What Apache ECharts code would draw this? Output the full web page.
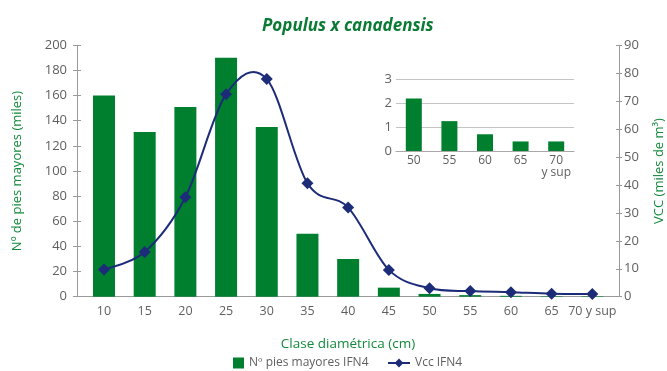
<!DOCTYPE html>
<html>
<head>
<meta charset="utf-8">
<script src="https://cdn.jsdelivr.net/npm/echarts@6/dist/echarts.min.js"></script>
<style>
  html, body { margin: 0; padding: 0; background: #fff; }
  #chart { width: 667px; height: 371px; }
</style>
</head>
<body>
<div id="chart"></div>
<script>
// Diameter classes (cm)
const categories = ['10', '15', '20', '25', '30', '35', '40', '45', '50', '55', '60', '65', '70 y sup'];
// Nº pies mayores IFN4 (miles)
const piesMayores = [160, 131, 151, 190, 135, 50, 30, 7.2, 2.2, 1.25, 0.7, 0.4, 0.4];
// Vcc IFN4 (miles de m³)
const vcc = [9.7, 16.0, 35.6, 72.5, 77.9, 40.6, 31.9, 9.6, 3.0, 2.0, 1.6, 1.1, 1.0];
// Tick labels
const leftTicks = [0, 20, 40, 60, 80, 100, 120, 140, 160, 180, 200];
const rightTicks = [0, 10, 20, 30, 40, 50, 60, 70, 80, 90];
// Detail panel for the largest classes
const insetCategories = ['50', '55', '60', '65', '70\ny sup'];
const insetStart = categories.indexOf('50');
const insetValues = piesMayores.slice(insetStart);

const GREEN = '#00802f';
const NAVY = '#1c2c78';
const GREY_TXT = '#5f5f5f';
const AXIS = '#9a9a9a';
const TITLE_GREEN = '#138a3c';
const FONT = 'Open Sans';

const chart = echarts.init(document.getElementById('chart'), null, { renderer: 'canvas' });

const indices = categories.map((_, i) => i);

// Smoothed curve through the Vcc points (Catmull-Rom spline as cubic Béziers)
function renderVccCurve(params, api) {
  const pts = vcc.map((v, i) => api.coord([i, v]));
  const n = pts.length;
  let d = 'M' + pts[0][0] + ',' + pts[0][1];
  for (let i = 0; i < n - 1; i++) {
    const p0 = pts[Math.max(i - 1, 0)];
    const p1 = pts[i];
    const p2 = pts[i + 1];
    const p3 = pts[Math.min(i + 2, n - 1)];
    const c1x = p1[0] + (p2[0] - p0[0]) / 6;
    const c1y = p1[1] + (p2[1] - p0[1]) / 6;
    const c2x = p2[0] - (p3[0] - p1[0]) / 6;
    const c2y = p2[1] - (p3[1] - p1[1]) / 6;
    d += ' C' + c1x + ',' + c1y + ' ' + c2x + ',' + c2y + ' ' + p2[0] + ',' + p2[1];
  }
  return {
    type: 'path',
    shape: { pathData: d },
    style: { fill: null, stroke: NAVY, lineWidth: 2 }
  };
}

// Inner half of the crossing tick marks on both value axes
function innerTickAxis(position, max, interval, length) {
  return {
    type: 'value',
    gridIndex: 0,
    position: position,
    min: 0,
    max: max,
    interval: interval,
    splitLine: { show: false },
    axisLine: { show: false, onZero: false },
    axisLabel: { show: false },
    axisTick: { show: true, inside: true, length: length, lineStyle: { color: AXIS } }
  };
}

chart.setOption({
  animation: false,
  textStyle: { fontFamily: FONT },
  title: {
    text: 'Populus x canadensis',
    left: 257,
    top: 13,
    textStyle: { fontSize: 17, fontWeight: 'bold', fontStyle: 'italic', color: '#0a7a34', fontFamily: FONT }
  },
  legend: [
    {
      top: 352,
      left: 228,
      itemWidth: 11,
      itemHeight: 11,
      itemGap: 6,
      textStyle: { fontSize: 12, color: GREY_TXT, fontFamily: FONT },
      data: [{ name: 'Nº pies mayores IFN4', icon: 'rect', itemStyle: { color: GREEN } }]
    },
    {
      top: 352,
      left: 382,
      itemWidth: 22,
      itemHeight: 11,
      textStyle: { fontSize: 12, color: GREY_TXT, fontFamily: FONT },
      data: [{ name: 'Vcc IFN4', lineStyle: { color: NAVY, width: 2, opacity: 1 } }]
    }
  ],
  grid: [
    { left: 77, right: 48, top: 45.3, bottom: 74.3, outerBoundsMode: 'none' },
    { left: 396, right: 93, top: 79.3, bottom: 220, outerBoundsMode: 'none' }
  ],
  xAxis: [
    {
      type: 'value',
      gridIndex: 0,
      min: -0.6635,
      max: 12.656,
      splitLine: { show: false },
      axisLine: { show: true, onZero: false, lineStyle: { color: AXIS, width: 1 } },
      axisTick: { show: false },
      axisLabel: {
        customValues: indices,
        formatter: v => categories[Math.round(v)],
        color: GREY_TXT,
        fontSize: 12.5,
        margin: 8
      },
      name: 'Clase diamétrica (cm)',
      nameLocation: 'middle',
      nameGap: 40,
      nameTextStyle: { color: TITLE_GREEN, fontSize: 13.5, fontFamily: FONT }
    },
    {
      type: 'category',
      gridIndex: 1,
      data: insetCategories,
      axisLine: { show: true, lineStyle: { color: '#a8a8a8' } },
      axisTick: { show: false },
      axisLabel: { interval: 0, color: GREY_TXT, fontSize: 12, margin: 4, lineHeight: 12 }
    }
  ],
  yAxis: [
    {
      type: 'value',
      gridIndex: 0,
      min: 0,
      max: 200,
      interval: 20,
      splitLine: { show: false },
      axisLine: { show: true, onZero: false, lineStyle: { color: AXIS } },
      axisTick: { show: true, length: 4, lineStyle: { color: AXIS } },
      axisLabel: { color: GREY_TXT, fontSize: 13, margin: 10,
        formatter: v => String(leftTicks[leftTicks.indexOf(v)]) },
      name: 'Nº de pies mayores (miles)',
      nameLocation: 'middle',
      nameRotate: 90,
      nameGap: 53,
      nameTextStyle: { color: TITLE_GREEN, fontSize: 13, fontFamily: FONT }
    },
    {
      type: 'value',
      gridIndex: 0,
      position: 'right',
      min: 0,
      max: 90,
      interval: 10,
      splitLine: { show: false },
      axisLine: { show: true, onZero: false, lineStyle: { color: AXIS } },
      axisTick: { show: true, length: 3, lineStyle: { color: AXIS } },
      axisLabel: { color: GREY_TXT, fontSize: 13, margin: 5,
        formatter: v => String(rightTicks[rightTicks.indexOf(v)]) },
      name: 'VCC (miles de m³)',
      nameLocation: 'middle',
      nameRotate: 90,
      nameGap: 34,
      nameTextStyle: { color: TITLE_GREEN, fontSize: 13, fontFamily: FONT }
    },
    {
      type: 'value',
      gridIndex: 1,
      min: 0,
      max: 3,
      interval: 1,
      axisLine: { show: false },
      axisTick: { show: false },
      splitLine: { show: true, lineStyle: { color: '#c4c4c4' } },
      axisLabel: { color: GREY_TXT, fontSize: 13, margin: 4 }
    },
    innerTickAxis('left', 200, 20, 4),
    innerTickAxis('right', 90, 10, 3)
  ],
  series: [
    {
      name: 'Nº pies mayores IFN4',
      type: 'bar',
      xAxisIndex: 0,
      yAxisIndex: 0,
      barWidth: 22,
      itemStyle: { color: GREEN },
      data: piesMayores.map((v, i) => [i, v])
    },
    {
      name: 'Vcc curve',
      type: 'custom',
      xAxisIndex: 0,
      yAxisIndex: 1,
      clip: false,
      silent: true,
      data: [[0, vcc[0]]],
      encode: { x: 0, y: 1 },
      renderItem: renderVccCurve,
      z: 4
    },
    {
      name: 'Vcc IFN4',
      type: 'line',
      xAxisIndex: 0,
      yAxisIndex: 1,
      symbol: 'diamond',
      symbolSize: 12,
      itemStyle: { color: NAVY },
      lineStyle: { color: NAVY, width: 2, opacity: 0 },
      data: vcc.map((v, i) => [i, v]),
      z: 5
    },
    {
      name: 'detalle',
      type: 'bar',
      xAxisIndex: 1,
      yAxisIndex: 2,
      barWidth: 16,
      itemStyle: { color: GREEN },
      data: insetValues
    }
  ]
});
</script>
</body>
</html>
